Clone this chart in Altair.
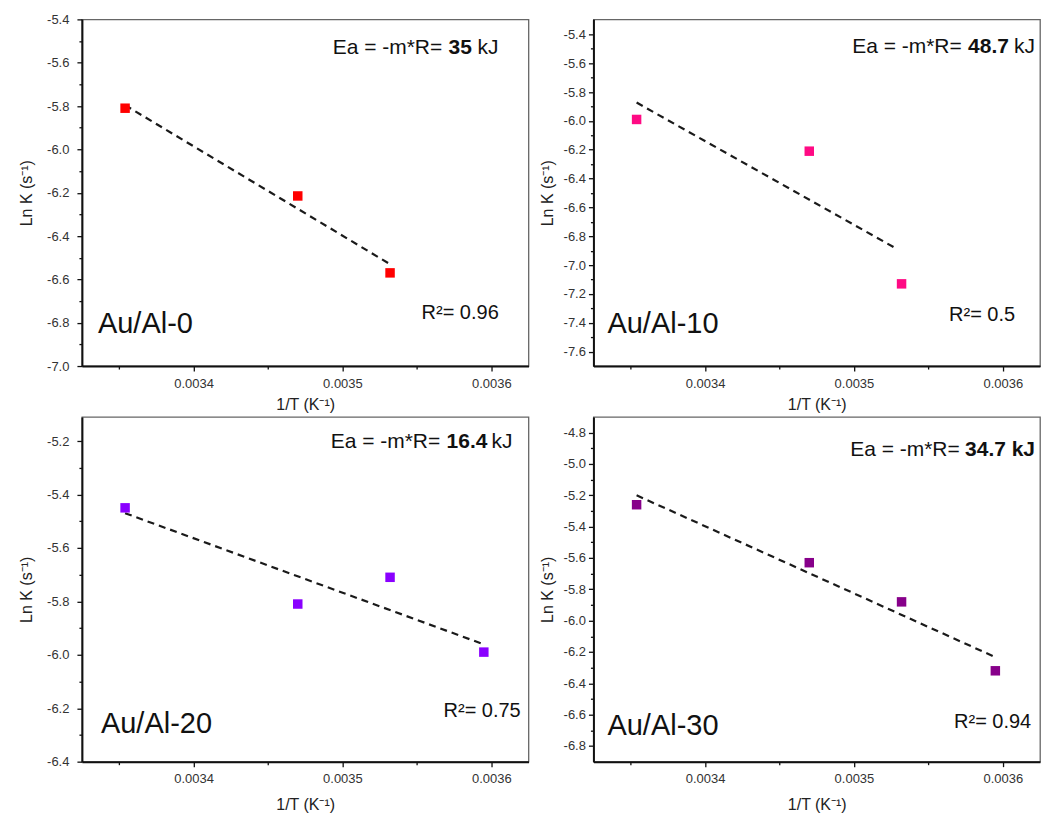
import altair as alt
import pandas as pd

# ---------------- data ----------------
inv_T_3 = [0.003354, 0.003470, 0.003532]
inv_T_4 = [0.003354, 0.003470, 0.003532, 0.003595]

lnk_al0 = [-5.81, -6.215, -6.57]
lnk_al10 = [-5.99, -6.21, -7.13]
lnk_al20 = [-5.45, -5.81, -5.71, -5.99]
lnk_al30 = [-5.26, -5.63, -5.88, -6.32]

fit_x_al0 = [0.003354, 0.003532]
fit_y_al0 = [-5.796, -6.53]
fit_x_al10 = [0.003354, 0.003528]
fit_y_al10 = [-5.873, -6.883]
fit_x_al20 = [0.003354, 0.003595]
fit_y_al20 = [-5.47, -5.961]
fit_x_al30 = [0.003354, 0.003595]
fit_y_al30 = [-5.20, -6.233]

sample_labels = ["Au/Al-0", "Au/Al-10", "Au/Al-20", "Au/Al-30"]
ea_numbers = ["35", "48.7", "16.4", "34.7 kJ"]
ea_units = ["kJ", "kJ", "kJ", ""]
r2_values = ["0.96", "0.5", "0.75", "0.94"]
colors = ["#FF0000", "#FF0A84", "#8A00FF", "#87008A"]

x_domain = [0.003325, 0.003625]
x_major = [0.0034, 0.0035, 0.0036]
x_minor = [0.00335, 0.00345, 0.00355]

y_domains = [[-7.0, -5.4], [-7.7, -5.296], [-6.4, -5.11], [-6.9, -4.7]]
y_major = [
    [-7.0, -6.8, -6.6, -6.4, -6.2, -6.0, -5.8, -5.6, -5.4],
    [-7.6, -7.4, -7.2, -7.0, -6.8, -6.6, -6.4, -6.2, -6.0, -5.8, -5.6, -5.4],
    [-6.4, -6.2, -6.0, -5.8, -5.6, -5.4, -5.2],
    [-6.8, -6.6, -6.4, -6.2, -6.0, -5.8, -5.6, -5.4, -5.2, -5.0, -4.8],
]
y_minor = [
    [-6.9, -6.7, -6.5, -6.3, -6.1, -5.9, -5.7, -5.5],
    [-7.5, -7.3, -7.1, -6.9, -6.7, -6.5, -6.3, -6.1, -5.9, -5.7, -5.5],
    [-6.3, -6.1, -5.9, -5.7, -5.5, -5.3],
    [-6.7, -6.5, -6.3, -6.1, -5.9, -5.7, -5.5, -5.3, -5.1, -4.9],
]

points_x = [inv_T_3, inv_T_3, inv_T_4, inv_T_4]
points_y = [lnk_al0, lnk_al10, lnk_al20, lnk_al30]
fits_x = [fit_x_al0, fit_x_al10, fit_x_al20, fit_x_al30]
fits_y = [fit_y_al0, fit_y_al10, fit_y_al20, fit_y_al30]

# ---------------- layout / style (not data) ----------------
FONT = "Liberation Sans, Arial, sans-serif"
W = 447
HEIGHTS = [347, 347, 345, 345]
YLABEL_PAD = [8, 3, 8, 3]
YTITLE_PAD = [12, 8, 12, 8]
XTITLE_PAD = [7, 7, 11, 11]
# annotation positions in pixels relative to each plot area
EA_POS = [(251, 367, 396, 35), (259, 375, 421, 34), (249, 365, 410, 31), (257, 372, 0, 39)]
R2_POS = [(340, 300), (356, 302), (362, 300), (361, 311)]
LBL_POS = [(16, 314), (14, 314), (19, 316), (14, 318)]

minus_fix = "replace(datum.label, '\u2212', '-')"


def text_layer(txt, x, y, size, weight="normal"):
    df = pd.DataFrame({"t": [txt]})
    return alt.Chart(df).mark_text(
        align="left", baseline="alphabetic", font=FONT, fontSize=size,
        fontWeight=weight, color="#111"
    ).encode(text="t:N", x=alt.value(x), y=alt.value(y))


def panel(i):
    pts = pd.DataFrame({"x": points_x[i], "y": points_y[i]})
    fit = pd.DataFrame({"x": fits_x[i], "y": fits_y[i]})
    xs = alt.Scale(domain=x_domain, nice=False, zero=False)
    ys = alt.Scale(domain=y_domains[i], nice=False, zero=False)

    main = alt.Chart(pts).mark_square(size=90, color=colors[i], opacity=1).encode(
        x=alt.X("x:Q", scale=xs, axis=alt.Axis(
            values=x_major, format=".4f", title="1/T (K\u207b\u00b9)", orient="bottom",
            tickSize=5, labelPadding=6, titlePadding=XTITLE_PAD[i])),
        y=alt.Y("y:Q", scale=ys, axis=alt.Axis(
            values=y_major[i], format=".1f", labelExpr=minus_fix,
            title="Ln K (s\u207b\u00b9)", orient="left", tickSize=5,
            labelPadding=YLABEL_PAD[i], titlePadding=YTITLE_PAD[i])),
    )
    minor = alt.Chart(fit).mark_point(opacity=0).encode(
        x=alt.X("x:Q", scale=xs, axis=alt.Axis(
            values=x_minor, labels=False, domain=False, tickSize=3, title=None,
            orient="bottom")),
        y=alt.Y("y:Q", scale=ys, axis=alt.Axis(
            values=y_minor[i], labels=False, domain=False, tickSize=3, title=None,
            orient="left")),
    )
    line = alt.Chart(fit).mark_line(
        color="#1a1a1a", strokeDash=[7, 5], strokeWidth=2.2
    ).encode(
        x=alt.X("x:Q", scale=xs, axis=None),
        y=alt.Y("y:Q", scale=ys, axis=None),
    )
    ex1, ex2, ex3, ey = EA_POS[i]
    layers = [line, main, minor,
              text_layer("Ea = -m*R=", ex1, ey, 21),
              text_layer(ea_numbers[i], ex2, ey, 21, "bold")]
    if ea_units[i]:
        layers.append(text_layer(ea_units[i], ex3, ey, 21))
    layers.append(text_layer("R\u00b2= " + r2_values[i], R2_POS[i][0], R2_POS[i][1], 20))
    layers.append(text_layer(sample_labels[i], LBL_POS[i][0], LBL_POS[i][1], 29))
    return alt.layer(*layers).resolve_axis(
        x="independent", y="independent"
    ).properties(width=W, height=HEIGHTS[i])


chart = alt.concat(
    panel(0), panel(1), panel(2), panel(3), columns=2,
    spacing={"row": 2, "column": 8}
).properties(
    padding={"left": 17, "top": 12, "right": 0, "bottom": 5},
    background="white"
).configure_view(
    stroke="#666", strokeWidth=1.3
).configure_axis(
    grid=False, domainColor="#111", domainWidth=2, tickColor="#111", tickWidth=1.3,
    labelFont=FONT, labelFontSize=13, labelColor="#333",
    titleFont=FONT, titleFontSize=16, titleFontWeight="normal", titleColor="#222"
)

chart.save("out.html", embed_options={"renderer": "svg", "actions": False})
